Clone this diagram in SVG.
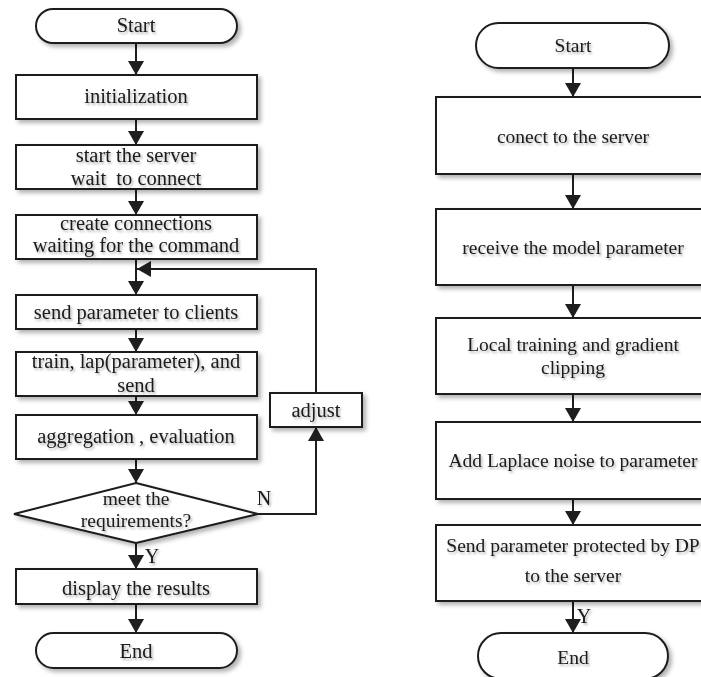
<svg xmlns="http://www.w3.org/2000/svg" width="701" height="677" viewBox="0 0 701 677">
  <defs>
    <style>
      .box { fill: #ffffff; stroke: #1e1e1e; stroke-width: 2; filter: url(#shadow); }
      .conn { fill: none; stroke: #1e1e1e; stroke-width: 2; }
      text { font-family: "Liberation Serif", "Times New Roman", serif; fill: #1a1a1a; text-anchor: middle; filter: url(#tshadow); }
      .l { font-size: 20.5px; }
      .d { font-size: 19.5px; }
      .r { font-size: 19.5px; }
      .lbl { font-size: 20px; }
    </style>
    <filter id="shadow" x="-10%" y="-20%" width="130%" height="160%">
      <feDropShadow dx="3" dy="3" stdDeviation="2" flood-color="#000" flood-opacity="0.3"/>
    </filter>
    <filter id="tshadow" x="-10%" y="-30%" width="130%" height="170%">
      <feDropShadow dx="1.5" dy="2" stdDeviation="1.2" flood-color="#000" flood-opacity="0.3"/>
    </filter>
    <marker id="arrow" viewBox="0 0 14 16" refX="14" refY="8" markerWidth="14" markerHeight="16" markerUnits="userSpaceOnUse" orient="auto">
      <path d="M0,0 L14,8 L0,16 z" fill="#1e1e1e"/>
    </marker>
  </defs>
  <rect width="701" height="677" fill="#ffffff"/>

  <g id="connectors">
    <line class="conn" x1="136" y1="43" x2="136" y2="75" marker-end="url(#arrow)"/>
    <line class="conn" x1="136" y1="119" x2="136" y2="145" marker-end="url(#arrow)"/>
    <line class="conn" x1="136" y1="189" x2="136" y2="215" marker-end="url(#arrow)"/>
    <line class="conn" x1="136" y1="259" x2="136" y2="295" marker-end="url(#arrow)"/>
    <line class="conn" x1="136" y1="329" x2="136" y2="352" marker-end="url(#arrow)"/>
    <line class="conn" x1="136" y1="396" x2="136" y2="415" marker-end="url(#arrow)"/>
    <line class="conn" x1="136" y1="459" x2="136" y2="483" marker-end="url(#arrow)"/>
    <line class="conn" x1="136" y1="543" x2="136" y2="569" marker-end="url(#arrow)"/>
    <line class="conn" x1="136" y1="604" x2="136" y2="633" marker-end="url(#arrow)"/>
    <polyline class="conn" points="258,514 316,514 316,427" marker-end="url(#arrow)"/>
    <polyline class="conn" points="316,393 316,269 137,269" marker-end="url(#arrow)"/>
    <line class="conn" x1="573" y1="68" x2="573" y2="97" marker-end="url(#arrow)"/>
    <line class="conn" x1="573" y1="174" x2="573" y2="209" marker-end="url(#arrow)"/>
    <line class="conn" x1="573" y1="285" x2="573" y2="318" marker-end="url(#arrow)"/>
    <line class="conn" x1="573" y1="394" x2="573" y2="422" marker-end="url(#arrow)"/>
    <line class="conn" x1="573" y1="499" x2="573" y2="525" marker-end="url(#arrow)"/>
    <line class="conn" x1="573" y1="601" x2="573" y2="633" marker-end="url(#arrow)"/>
    <text class="lbl" x="264" y="505">N</text>
    <text class="lbl" x="152" y="563">Y</text>
    <text class="lbl" x="584" y="623">Y</text>
  </g>

  <!-- Left flowchart -->
  <g id="l-start">
    <rect class="box" x="36" y="9" width="201" height="34" rx="17"/>
    <text class="l" x="136" y="32">Start</text>
  </g>
  <g id="l-init">
    <rect class="box" x="16" y="75" width="241" height="44"/>
    <text class="l" x="136" y="103">initialization</text>
  </g>
  <g id="l-server">
    <rect class="box" x="16" y="145" width="241" height="44"/>
    <text class="l" x="136" y="162">start the server</text>
    <text class="l" x="136" y="185" xml:space="preserve">wait  to connect</text>
  </g>
  <g id="l-connections">
    <rect class="box" x="16" y="215" width="241" height="44"/>
    <text class="l" x="136" y="230">create connections</text>
    <text class="l" x="136" y="252">waiting for the command</text>
  </g>
  <g id="l-send">
    <rect class="box" x="16" y="295" width="241" height="34"/>
    <text class="l" x="136" y="319">send parameter to clients</text>
  </g>
  <g id="l-train">
    <rect class="box" x="16" y="352" width="241" height="44"/>
    <text class="l" x="136" y="368">train, lap(parameter), and</text>
    <text class="l" x="136" y="392">send</text>
  </g>
  <g id="l-aggregation">
    <rect class="box" x="16" y="415" width="241" height="44"/>
    <text class="l" x="136" y="443">aggregation , evaluation</text>
  </g>
  <g id="l-decision">
    <polygon class="box" points="136,483 258,514 136,543 14,514"/>
    <text class="d" x="136" y="505">meet the</text>
    <text class="d" x="136" y="527">requirements?</text>
  </g>
  <g id="l-display">
    <rect class="box" x="16" y="569" width="241" height="35"/>
    <text class="l" x="136" y="595">display the results</text>
  </g>
  <g id="l-end">
    <rect class="box" x="36" y="633" width="201" height="35" rx="17.5"/>
    <text class="l" x="136" y="658">End</text>
  </g>
  <g id="l-adjust">
    <rect class="box" x="270" y="393" width="92" height="34"/>
    <text class="l" x="316" y="417">adjust</text>
  </g>

  <!-- Right flowchart -->
  <g id="r-start">
    <rect class="box" x="476" y="23" width="193" height="45" rx="22.5"/>
    <text class="r" x="573" y="52">Start</text>
  </g>
  <g id="r-connect">
    <rect class="box" x="436" y="97" width="274" height="77"/>
    <text class="r" x="573" y="143">conect to the server</text>
  </g>
  <g id="r-receive">
    <rect class="box" x="436" y="209" width="274" height="76"/>
    <text class="r" x="573" y="254">receive the model parameter</text>
  </g>
  <g id="r-train">
    <rect class="box" x="436" y="318" width="274" height="76"/>
    <text class="r" x="573" y="351">Local training and gradient</text>
    <text class="r" x="573" y="374">clipping</text>
  </g>
  <g id="r-noise">
    <rect class="box" x="436" y="422" width="274" height="77"/>
    <text class="r" x="573" y="467">Add Laplace noise to parameter</text>
  </g>
  <g id="r-send">
    <rect class="box" x="436" y="525" width="274" height="76"/>
    <text class="r" x="573" y="552">Send parameter protected by DP</text>
    <text class="r" x="573" y="582">to the server</text>
  </g>
  <g id="r-end">
    <rect class="box" x="478" y="633" width="190" height="46" rx="23"/>
    <text class="r" x="573" y="664">End</text>
  </g>
</svg>
